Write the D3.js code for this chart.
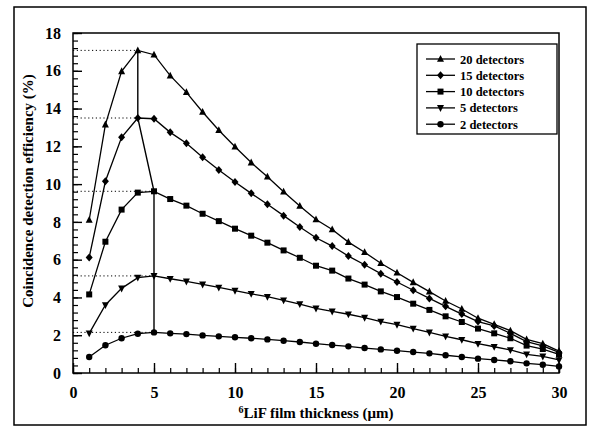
<!DOCTYPE html>
<html><head><meta charset="utf-8">
<script src="https://cdn.jsdelivr.net/npm/d3@7"></script>
<style>body{margin:0;background:#fff}svg{display:block}</style>
</head><body>
<svg id="chart" width="589" height="430"></svg>
<script>
const thickness = d3.range(1, 31);
const det20 = [8.1,13.15,15.97,17.08,16.85,15.74,14.86,13.82,12.85,11.98,11.14,10.39,9.6,8.84,8.13,7.6,6.93,6.39,5.81,5.31,4.8,4.31,3.81,3.39,2.9,2.58,2.24,1.78,1.55,1.16];
const det15 = [6.12,10.15,12.48,13.5,13.46,12.74,12.16,11.42,10.75,10.11,9.51,8.93,8.33,7.73,7.16,6.72,6.19,5.73,5.26,4.82,4.38,3.95,3.53,3.12,2.72,2.49,2.1,1.66,1.43,1.09];
const det10 = [4.16,6.95,8.65,9.55,9.62,9.21,8.86,8.43,8.04,7.64,7.27,6.9,6.49,6.1,5.68,5.42,5.0,4.68,4.32,4.02,3.67,3.34,3.0,2.7,2.35,2.1,1.84,1.45,1.27,0.99];
const det5 = [2.1,3.6,4.48,5.05,5.14,4.99,4.85,4.69,4.53,4.36,4.19,4.04,3.85,3.65,3.42,3.26,3.11,2.93,2.72,2.56,2.35,2.15,1.94,1.76,1.55,1.39,1.22,0.99,0.88,0.69];
const det2 = [0.85,1.47,1.84,2.08,2.15,2.1,2.06,1.99,1.94,1.89,1.84,1.78,1.71,1.64,1.55,1.48,1.41,1.32,1.25,1.18,1.11,1.04,0.94,0.85,0.76,0.69,0.62,0.51,0.44,0.35];
const seriesNames = ["20 detectors","15 detectors","10 detectors","5 detectors","2 detectors"];
const seriesValues = [det20, det15, det10, det5, det2];
const seriesSymbols = ["triangleUp","diamond","square","triangleDown","circle"];
const xTicks = [0,5,10,15,20,25,30];
const yTicks = [0,2,4,6,8,10,12,14,16,18];

const svg = d3.select("#chart");
const font = "'Liberation Serif','Times New Roman',serif";
const m = {l:73, r:559, t:33, b:373};
const x = d3.scaleLinear().domain([0,30]).range([m.l, m.r]);
const y = d3.scaleLinear().domain([0,18]).range([m.b, m.t]);

// outer frame
svg.append("rect").attr("x",14).attr("y",7).attr("width",572).attr("height",418)
  .attr("fill","none").attr("stroke","#000").attr("stroke-width",1.5);
// plot frame
svg.append("rect").attr("x",m.l).attr("y",m.t).attr("width",m.r-m.l).attr("height",m.b-m.t)
  .attr("fill","none").attr("stroke","#000").attr("stroke-width",1.5);

// x axis
const xMinor = d3.range(0,31);
svg.append("g").attr("transform",`translate(0,${m.b})`)
  .call(d3.axisBottom(x).tickValues(xMinor).tickSize(-5).tickFormat(""))
  .call(g=>g.select(".domain").remove())
  .call(g=>g.selectAll("line").attr("stroke-width",1.2));
svg.append("g").attr("transform",`translate(0,${m.b})`)
  .call(d3.axisBottom(x).tickValues(xTicks).tickSize(-10).tickPadding(14).tickFormat(d3.format("d")))
  .call(g=>g.select(".domain").remove())
  .call(g=>g.selectAll("line").attr("stroke-width",1.4))
  .call(g=>g.selectAll("text").attr("font-family",font).attr("font-weight","bold").attr("font-size",16).attr("fill","#000"));

// y axis
const yMinor = d3.range(0,18.01,0.4);
svg.append("g").attr("transform",`translate(${m.l},0)`)
  .call(d3.axisLeft(y).tickValues(yMinor).tickSize(-5).tickFormat(""))
  .call(g=>g.select(".domain").remove())
  .call(g=>g.selectAll("line").attr("stroke-width",1.2));
svg.append("g").attr("transform",`translate(${m.l},0)`)
  .call(d3.axisLeft(y).tickValues(yTicks).tickSize(-9).tickPadding(12).tickFormat(d3.format("d")))
  .call(g=>g.select(".domain").remove())
  .call(g=>g.selectAll("line").attr("stroke-width",1.4))
  .call(g=>g.selectAll("text").attr("font-family",font).attr("font-weight","bold").attr("font-size",16).attr("fill","#000"));

// peaks
const peaks = seriesValues.map(v=>{const i=d3.maxIndex(v); return {x:thickness[i], y:v[i]};});
svg.append("g").selectAll("line").data(peaks).join("line")
  .attr("x1",m.l).attr("x2",d=>x(d.x)).attr("y1",d=>y(d.y)).attr("y2",d=>y(d.y))
  .attr("stroke","#000").attr("stroke-width",1).attr("stroke-dasharray","1.2,2.6");
svg.append("path").datum(peaks)
  .attr("d", d3.line().x(d=>x(d.x)).y(d=>y(d.y)))
  .attr("fill","none").attr("stroke","#000").attr("stroke-width",1.4);

// symbols
function drawSymbol(g, type, cx, cy){
  if(type==="triangleUp") g.append("path").attr("d",`M${cx},${cy-4}L${cx+3.5},${cy+2.8}L${cx-3.5},${cy+2.8}Z`);
  else if(type==="triangleDown") g.append("path").attr("d",`M${cx},${cy+4}L${cx+3.5},${cy-2.8}L${cx-3.5},${cy-2.8}Z`);
  else if(type==="diamond") g.append("path").attr("d",`M${cx},${cy-4}L${cx+3.5},${cy}L${cx},${cy+4}L${cx-3.5},${cy}Z`);
  else if(type==="square") g.append("rect").attr("x",cx-3).attr("y",cy-3).attr("width",6).attr("height",6);
  else g.append("circle").attr("cx",cx).attr("cy",cy).attr("r",3.2);
}

const line = d3.line().x((d,i)=>x(thickness[i])).y(d=>y(d));
seriesValues.forEach((vals,k)=>{
  svg.append("path").datum(vals).attr("d",line).attr("fill","none").attr("stroke","#000").attr("stroke-width",1.3);
  const g = svg.append("g").attr("fill","#000");
  vals.forEach((v,i)=>drawSymbol(g, seriesSymbols[k], x(thickness[i]), y(v)));
});

// legend
svg.append("rect").attr("x",417).attr("y",44).attr("width",140).attr("height",90)
  .attr("fill","#fff").attr("stroke","#000").attr("stroke-width",1.3);
seriesNames.forEach((name,k)=>{
  const ly = 59 + k*16.3;
  svg.append("line").attr("x1",426).attr("x2",455).attr("y1",ly).attr("y2",ly).attr("stroke","#000").attr("stroke-width",1.3);
  const g = svg.append("g").attr("fill","#000");
  drawSymbol(g, seriesSymbols[k], 440.5, ly);
  svg.append("text").attr("x",460).attr("y",ly+4.5).text(name)
    .attr("font-family",font).attr("font-weight","bold").attr("font-size",12.5).attr("fill","#000");
});

// axis titles
const xt = svg.append("text").attr("x",(m.l+m.r)/2).attr("y",418).attr("text-anchor","middle")
  .attr("font-family",font).attr("font-weight","bold").attr("font-size",15).attr("fill","#000");
xt.append("tspan").attr("font-size",10).attr("dy",-5).text("6");
xt.append("tspan").attr("dy",5).text("LiF film thickness (μm)");
svg.append("text").attr("transform",`translate(33,${(m.t+m.b)/2 - 12}) rotate(-90)`).attr("text-anchor","middle")
  .attr("font-family",font).attr("font-weight","bold").attr("font-size",15).attr("fill","#000")
  .text("Coincidence detection efficiency (%)");
</script>
</body></html>
